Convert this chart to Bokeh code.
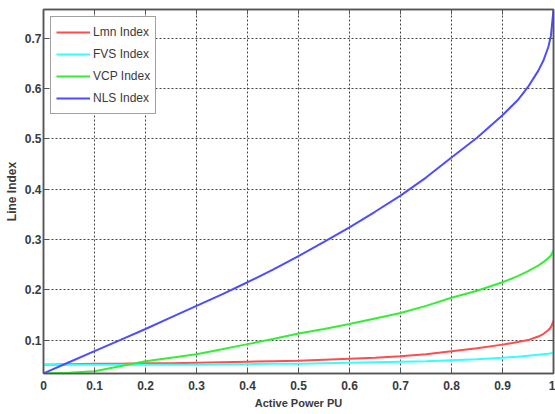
from bokeh.plotting import figure
from bokeh.models import FixedTicker, LinearAxis, Range1d, Legend, LegendItem
from bokeh.embed import file_html
from bokeh.resources import INLINE

# ---- data ----
x = [0, 0.05, 0.1, 0.15, 0.2, 0.25, 0.3, 0.35, 0.4, 0.45, 0.5, 0.55, 0.6, 0.65,
     0.7, 0.75, 0.8, 0.85, 0.9, 0.93, 0.95, 0.97, 0.98, 0.99, 0.995, 1.0]
lmn = [0.051, 0.052, 0.053, 0.053, 0.054, 0.054, 0.055, 0.056, 0.057, 0.058, 0.059,
       0.061, 0.063, 0.065, 0.068, 0.072, 0.078, 0.084, 0.091, 0.096, 0.100, 0.107,
       0.112, 0.120, 0.126, 0.138]
fvs = [0.051, 0.051, 0.051, 0.051, 0.051, 0.051, 0.051, 0.052, 0.052, 0.053, 0.053,
       0.054, 0.055, 0.056, 0.057, 0.058, 0.060, 0.062, 0.065, 0.067, 0.069, 0.071,
       0.072, 0.073, 0.074, 0.075]
vcp = [0.034, 0.035, 0.038, 0.048, 0.058, 0.065, 0.072, 0.082, 0.092, 0.102, 0.113,
       0.122, 0.132, 0.143, 0.154, 0.168, 0.184, 0.198, 0.215, 0.227, 0.237, 0.248,
       0.255, 0.263, 0.268, 0.278]
nls = [0.034, 0.056, 0.078, 0.100, 0.122, 0.145, 0.168, 0.191, 0.215, 0.240, 0.267,
       0.295, 0.324, 0.355, 0.387, 0.423, 0.463, 0.502, 0.547, 0.577, 0.603, 0.635,
       0.655, 0.683, 0.705, 0.757]

series_names = ["Lmn Index", "FVS Index", "VCP Index", "NLS Index"]
series_values = [lmn, fvs, vcp, nls]
series_colors = ["#ff4d4d", "#33ffff", "#33ee33", "#4d4dff"]

x_ticks = [0, 0.1, 0.2, 0.3, 0.4, 0.5, 0.6, 0.7, 0.8, 0.9, 1.0]
x_tick_labels = ["0", "0.1", "0.2", "0.3", "0.4", "0.5", "0.6", "0.7", "0.8", "0.9", "1"]
y_ticks = [0.1, 0.2, 0.3, 0.4, 0.5, 0.6, 0.7]

FONT = "Liberation Sans"
TXT = "#3a3a3a"
FRAME = "#555555"

p = figure(width=555, height=414, output_backend="svg", toolbar_location=None,
           x_range=Range1d(0, 1), y_range=Range1d(0.0336, 0.757),
           min_border_left=43, min_border_right=2, min_border_top=9,
           min_border_bottom=41, x_axis_label="Active Power PU",
           y_axis_label="Line Index")
p.outline_line_color = FRAME
p.outline_line_width = 1.5
p.background_fill_color = "white"
p.border_fill_color = "white"

items = []
for name, vals, col in zip(series_names, series_values, series_colors):
    r = p.line(x, vals, line_color=col, line_width=2)
    items.append(LegendItem(label=name, renderers=[r]))

for ax in p.xaxis:
    ax.ticker = FixedTicker(ticks=x_ticks)
    ax.major_label_overrides = {t: l for t, l in zip(x_ticks, x_tick_labels)}
    ax.major_label_standoff = 7
    ax.axis_label_standoff = 4
    ax.axis_label_text_font_size = "11px"
for ax in p.yaxis:
    ax.ticker = FixedTicker(ticks=y_ticks)
    ax.major_label_standoff = 2
    ax.axis_label_standoff = 3
    ax.axis_label_text_font_size = "12px"

for ax in list(p.xaxis) + list(p.yaxis):
    ax.major_tick_in = 5
    ax.major_tick_out = 0
    ax.minor_tick_line_color = None
    ax.axis_line_color = FRAME
    ax.axis_line_width = 1.5
    ax.major_tick_line_color = FRAME
    ax.major_label_text_font = FONT
    ax.major_label_text_font_size = "12px"
    ax.major_label_text_font_style = "bold"
    ax.major_label_text_color = TXT
    ax.axis_label_text_font = FONT
    ax.axis_label_text_font_style = "bold"
    ax.axis_label_text_color = TXT

# top and right ticks (MATLAB box style), no labels
for loc, tk in (("above", x_ticks), ("right", y_ticks)):
    a = LinearAxis(ticker=FixedTicker(ticks=tk), major_tick_in=5, major_tick_out=0,
                   minor_tick_line_color=None, axis_line_color=FRAME,
                   axis_line_width=1.5,
                   major_tick_line_color=FRAME, major_label_text_color=None,
                   major_label_text_font_size="1px", major_label_standoff=0)
    p.add_layout(a, loc)

for g in (p.xgrid, p.ygrid):
    g.grid_line_color = "#444444"
    g.grid_line_dash = "2 2"
    g.grid_line_width = 1
p.xgrid.ticker = FixedTicker(ticks=x_ticks)
p.ygrid.ticker = FixedTicker(ticks=y_ticks)

legend = Legend(items=items, location="top_left")
legend.margin = 7
legend.padding = 5
legend.spacing = 2
legend.label_height = 20
legend.glyph_height = 20
legend.glyph_width = 34
legend.label_standoff = 3
legend.label_text_font = FONT
legend.label_text_font_size = "12px"
legend.label_text_color = TXT
legend.border_line_color = "#444444"
legend.border_line_width = 1.5
legend.background_fill_alpha = 1
p.add_layout(legend)

open("out.html", "w").write(file_html(p, INLINE))
